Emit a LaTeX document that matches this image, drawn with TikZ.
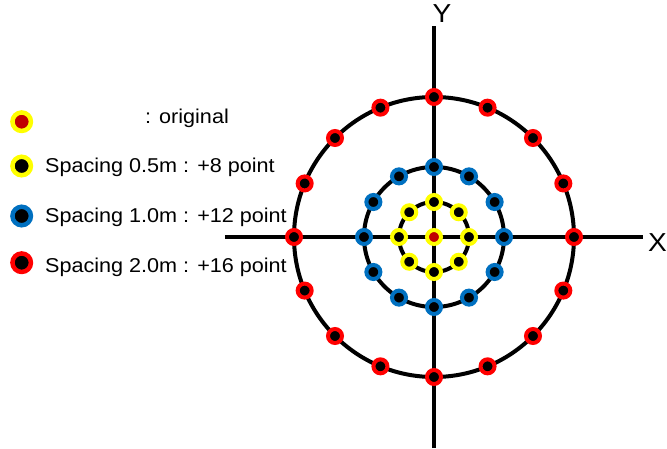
\documentclass[tikz,border=0pt]{standalone}
\usepackage{fontspec}
\setmainfont{Liberation Sans}[FakeStretch=1.08]
\usetikzlibrary{calc}
\definecolor{ptred}{RGB}{255,0,0}
\definecolor{ptblue}{RGB}{0,112,192}
\definecolor{ptyellow}{RGB}{255,255,0}
\definecolor{ptdark}{RGB}{192,0,0}
\tikzset{
  axis/.style={line width=3.5pt},
  ring/.style={line width=4pt},
  pt/.style={circle,inner sep=0pt,minimum size=14pt,line width=4pt,fill=black},
  legpt/.style={circle,inner sep=0pt,minimum size=18.5pt,line width=4.5pt,fill=black},
  legtext/.style={anchor=base west,inner sep=0pt,font=\fontsize{20}{24}\selectfont},
  axlabel/.style={inner sep=0pt,font=\fontsize{26}{30}\selectfont}
}

\begin{document}
\begin{tikzpicture}[x=1pt,y=1pt]
    \useasboundingbox (-434,-211) rectangle (233,237);
    % axes
    \draw[axis] (-209,0)--(209,0);
    \draw[axis] (0,-211)--(0,211);
    \node[axlabel] (ylab) at (8,223) {Y};
    \node[axlabel] (xlab) at (223.5,-6) {X};
    % rings
    \draw[ring] (0,0) circle (140);
    \draw[ring] (0,0) circle (70);
    \draw[ring] (0,0) circle (35);
    \foreach \i in {0,...,15}
      \node[pt,draw=ptred] (outer\i) at (\i*22.5:140) {};
    \foreach \i in {0,...,11}
      \node[pt,draw=ptblue] (mid\i) at (\i*30:70) {};
    \foreach \i in {0,...,7}
      \node[pt,draw=ptyellow] (inner\i) at (\i*45:35) {};
    \node[pt,draw=ptyellow,fill=ptdark] (origin) at (0,0) {};
    % legend
    \node[legpt,draw=ptyellow,fill=ptdark] (leg0) at (-412.3,115.3) {};
    \node[legpt,draw=ptyellow] (leg1) at (-412.3,71) {};
    \node[legpt,draw=ptblue] (leg2) at (-412.3,21) {};
    \node[legpt,draw=ptred] (leg3) at (-412.3,-25.7) {};
    \node[legtext] (txt0) at (-289,114) {: original};
    \node[legtext] (txt1) at (-389,64.3) {Spacing 0.5m : +8 point};
    \node[legtext] (txt2) at (-389,14.3) {Spacing 1.0m : +12 point};
    \node[legtext] (txt3) at (-389,-35.7) {Spacing 2.0m : +16 point};
  \end{tikzpicture}
\end{document}
